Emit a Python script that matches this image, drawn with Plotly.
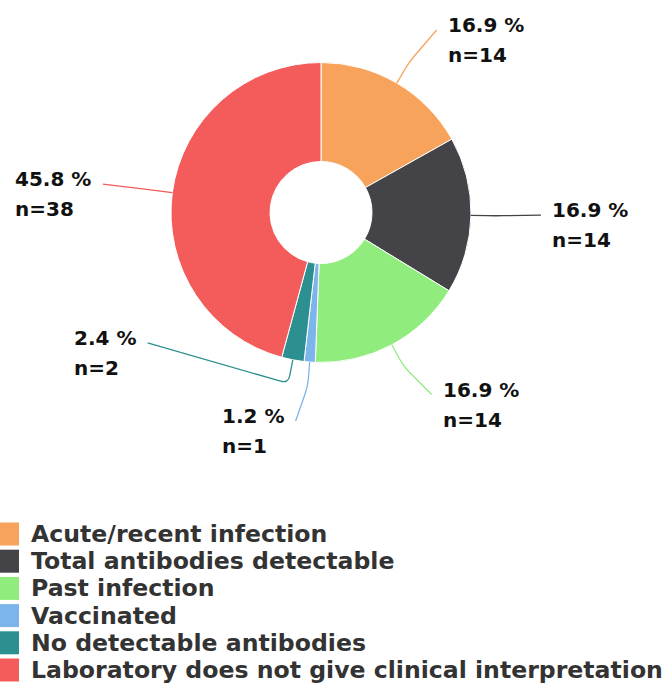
import math
import plotly.graph_objects as go

# ---- data ----
categories = [
    "Acute/recent infection",
    "Total antibodies detectable",
    "Past infection",
    "Vaccinated",
    "No detectable antibodies",
    "Laboratory does not give clinical interpretation",
]
counts = [14, 14, 14, 1, 2, 38]
colors = ["#f7a35c", "#434348", "#90ed7d", "#7cb5ec", "#2b908f", "#f45b5b"]

# ---- layout/style parameters ----
W, H = 666, 690
CX, CY, R = 321, 212.5, 150          # pie centre / radius in px
HOLE = 0.34
LABEL_SHIFT_DEG = [2.0, -0.4, -3.1, 2.6, 42.2, -0.2]   # label placement tweaks
LABEL_DIST = [216, 220, 213, 210, 217, 220]
ELBOW = 24
LBL_FONT = 20
LBL_LINE_FONT = 23      # controls line pitch (1.3em)
LEG_FONT = 23.6
LEG_TOP, LEG_PITCH, LEG_BOX = 534, 27.2, 23


def X(px):
    return px / W


def Y(py):
    return 1 - py / H


fig = go.Figure()
fig.add_trace(go.Pie(
    labels=categories,
    values=counts,
    sort=False,
    direction="clockwise",
    rotation=0,
    hole=HOLE,
    marker=dict(colors=colors, line=dict(color="#ffffff", width=1)),
    textinfo="none",
    hoverinfo="label+value+percent",
    showlegend=False,
    domain=dict(x=[X(CX - R), X(CX + R)], y=[Y(CY + R), Y(CY - R)]),
))


def towards(x0, y0, x1, y1, dist):
    L = math.hypot(x1 - x0, y1 - y0) or 1
    return x0 + (x1 - x0) * dist / L, y0 + (y1 - y0) * dist / L


total = sum(counts)
shapes = []
annotations = []
cum = 0
for i, (c, col) in enumerate(zip(counts, colors)):
    a0 = cum / total * 360
    cum += c
    a1 = cum / total * 360
    mid = (a0 + a1) / 2
    t = math.radians(mid)
    ex, ey = CX + R * math.sin(t), CY - R * math.cos(t)
    bx, by = CX + (R + ELBOW) * math.sin(t), CY - (R + ELBOW) * math.cos(t)
    phi = math.radians(mid + LABEL_SHIFT_DEG[i])
    d = LABEL_DIST[i]
    lx, ly = CX + d * math.sin(phi), CY - d * math.cos(phi)
    b1 = towards(bx, by, ex, ey, 8)
    b2 = towards(bx, by, lx, ly, 8)
    path = (f"M {X(ex)},{Y(ey)} L {X(b1[0])},{Y(b1[1])} "
            f"Q {X(bx)},{Y(by)} {X(b2[0])},{Y(b2[1])} L {X(lx)},{Y(ly)}")
    shapes.append(dict(type="path", xref="paper", yref="paper", path=path,
                       line=dict(color=col, width=1.3)))
    pct = f"{c / total * 100:.1f} %"
    ntxt = f"n={c}"
    right = math.sin(phi) >= 0
    tx = lx + 9 if right else lx - 10
    sp = "<span style='font-size:{}px'>{}</span>"
    annotations.append(dict(
        x=X(tx), y=Y(ly + 10), xref="paper", yref="paper",
        xanchor="left" if right else "right", yanchor="middle",
        align="left", showarrow=False,
        text=sp.format(LBL_FONT, pct) + "<br>" + sp.format(LBL_FONT, ntxt),
        font=dict(family="DejaVu Sans", size=LBL_LINE_FONT, color="#111111",
                  weight="bold"),
    ))

# legend
for i, (name, col) in enumerate(zip(categories, colors)):
    cy = LEG_TOP + i * LEG_PITCH
    shapes.append(dict(type="rect", xref="paper", yref="paper",
                       x0=X(-4), x1=X(19), y0=Y(cy - LEG_BOX / 2), y1=Y(cy + LEG_BOX / 2),
                       fillcolor=col, line=dict(width=0)))
    annotations.append(dict(
        x=X(29), y=Y(cy), xref="paper", yref="paper", xanchor="left",
        yanchor="middle", showarrow=False, text=name,
        font=dict(family="DejaVu Sans", size=LEG_FONT, color="#333333",
                  weight="bold"),
    ))

fig.update_layout(
    width=W, height=H,
    margin=dict(l=0, r=0, t=0, b=0),
    paper_bgcolor="#ffffff",
    plot_bgcolor="#ffffff",
    shapes=shapes,
    annotations=annotations,
    showlegend=False,
)
fig.write_html(
    "out.html",
    config={"displayModeBar": False},
    post_script="document.body.style.margin='0';document.body.style.overflow='hidden';",
)
